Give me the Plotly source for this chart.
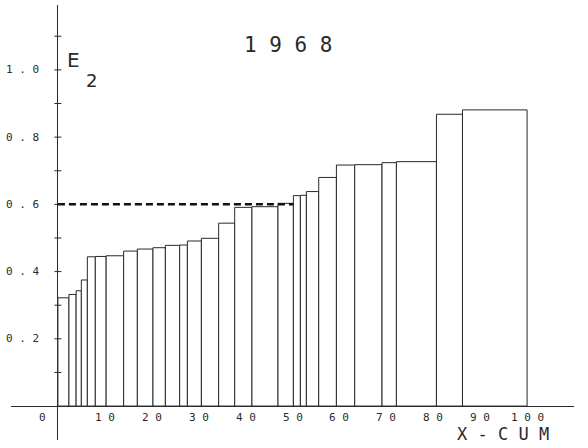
import plotly.graph_objects as go

# cumulative X boundaries of the classes (X-CUM, percent)
x_edges = [0, 2.35, 3.88, 4.99, 6.27, 7.97, 10.28, 14.01, 16.93, 20.26, 22.90,
           25.95, 27.59, 30.58, 34.26, 37.68, 41.36, 46.91, 50.19, 51.68, 52.96,
           55.59, 59.36, 63.26, 69.08, 72.15, 80.68, 86.23, 100]
# E2 value of each class
e2 = [0.322, 0.332, 0.343, 0.375, 0.444, 0.445, 0.447, 0.461, 0.467, 0.471,
      0.478, 0.479, 0.491, 0.499, 0.544, 0.591, 0.593, 0.603, 0.626, 0.627,
      0.638, 0.680, 0.717, 0.718, 0.724, 0.727, 0.868, 0.881]
# reference level (dashed)
ref_level = 0.6
ref_x = [0, 50.19]

x_ticks = [0, 10, 20, 30, 40, 50, 60, 70, 80, 90, 100]
x_tick_text = ["0", "1 0", "2 0", "3 0", "4 0", "5 0", "6 0", "7 0", "8 0", "9 0", "1 0 0"]
y_ticks = [0.2, 0.4, 0.6, 0.8, 1.0]
y_tick_text = ["0 . 2", "0 . 4", "0 . 6", "0 . 8", "1 . 0"]
y_minor = [0.1, 0.2, 0.3, 0.4, 0.5, 0.6, 0.7, 0.8, 0.9, 1.0, 1.1]

mids = [(a + b) / 2 for a, b in zip(x_edges[:-1], x_edges[1:])]
widths = [b - a for a, b in zip(x_edges[:-1], x_edges[1:])]

ink = "#2a2a2a"
mono = "DejaVu Sans Mono"

fig = go.Figure()
fig.add_trace(go.Bar(x=mids, y=e2, width=widths,
                     marker=dict(color="white", line=dict(color=ink, width=1)),
                     showlegend=False, hoverinfo="skip"))
fig.add_trace(go.Scatter(x=ref_x, y=[ref_level, ref_level], mode="lines",
                         line=dict(color="#111", width=2.5, dash="7px,4px"),
                         showlegend=False, hoverinfo="skip"))
fig.add_trace(go.Scatter(x=[0] * len(y_minor), y=y_minor, mode="markers",
                         marker=dict(symbol="line-ew", size=5,
                                     line=dict(color=ink, width=1)),
                         showlegend=False, hoverinfo="skip"))

ann = []
for v, t in zip(x_ticks, x_tick_text):
    xv = v if v != 0 else -3.3
    ann.append(dict(x=xv, y=-0.033, text=t, showarrow=False, xanchor="center",
                    yanchor="middle", font=dict(family=mono, size=11, color=ink)))
for v, t in zip(y_ticks, y_tick_text):
    ann.append(dict(x=-7.6, y=v, text=t, showarrow=False, xanchor="center",
                    yanchor="middle", font=dict(family=mono, size=11, color=ink)))
ann.append(dict(x=49.2, y=1.073, text="1 9 6 8", showarrow=False, xanchor="center",
                yanchor="middle", font=dict(family=mono, size=21, color=ink)))
ann.append(dict(x=1.6, y=1.028, text="E", showarrow=False, xanchor="left",
                yanchor="middle", font=dict(family="DejaVu Sans", size=20, color=ink)))
ann.append(dict(x=5.6, y=0.968, text="2", showarrow=False, xanchor="left",
                yanchor="middle", font=dict(family="DejaVu Sans", size=18, color=ink)))
ann.append(dict(x=105.0, y=-0.083, text="X - C U M", showarrow=False, xanchor="right",
                yanchor="middle", font=dict(family=mono, size=17, color=ink)))

fig.update_layout(
    width=588, height=448,
    margin=dict(l=11, r=14, t=5, b=8),
    paper_bgcolor="white", plot_bgcolor="white",
    annotations=ann,
    xaxis=dict(range=[-10, 110], showgrid=False, showticklabels=False, ticks="",
               zeroline=True, zerolinecolor=ink, zerolinewidth=1, fixedrange=True),
    yaxis=dict(range=[-0.101, 1.193], showgrid=False, showticklabels=False, ticks="",
               zeroline=True, zerolinecolor=ink, zerolinewidth=1, fixedrange=True),
)
fig.write_html("out.html", config={"displayModeBar": False},
               post_script="document.body.style.margin='0';document.body.style.overflow='hidden';")
